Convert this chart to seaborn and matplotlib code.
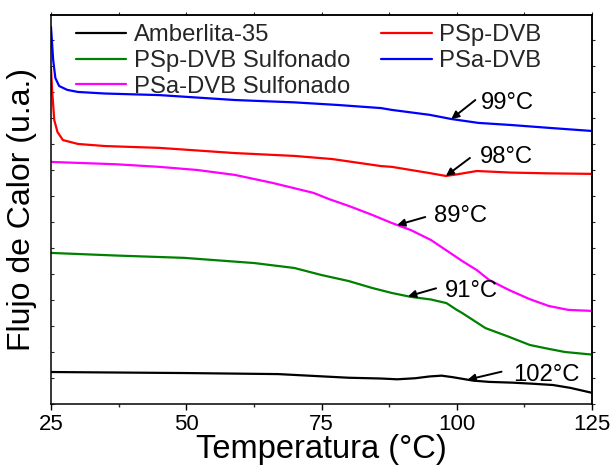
import numpy as np
import pandas as pd
import matplotlib
matplotlib.use("Agg")
import matplotlib.pyplot as plt
import seaborn as sns

# DSC curves: temperature (°C) and heat flow (arbitrary units)
t_amb = [25, 50, 67, 73.5, 80, 86, 89, 92.3, 95, 97.2, 99.3, 101, 103, 106, 110.4, 114, 117.8, 121, 125]
q_amb = [1.23, 1.19, 1.15, 1.08, 1.01, 0.98, 0.95, 0.99, 1.06, 1.09, 1.03, 0.97, 0.90, 0.85, 0.82, 0.78, 0.73, 0.62, 0.43]

t_psp = [25.0, 25.2, 25.6, 26.2, 27.2, 30, 35, 45, 59, 70, 77, 86, 88, 95, 98, 100, 103.7, 110, 117, 125]
q_psp = [12.92, 12.08, 10.92, 10.46, 10.15, 10.0, 9.92, 9.85, 9.65, 9.54, 9.42, 9.15, 9.12, 8.88, 8.77, 8.83, 8.96, 8.90, 8.87, 8.85]

t_psa = [25.0, 25.4, 25.8, 26.5, 28, 30, 35, 45, 59, 70, 78, 86, 88, 95, 99, 104, 110, 117, 125]
q_psa = [14.50, 13.23, 12.54, 12.23, 12.08, 12.00, 11.94, 11.88, 11.69, 11.60, 11.50, 11.38, 11.31, 11.12, 10.96, 10.81, 10.73, 10.62, 10.50]

t_psp_s = [25, 37, 49.6, 62.6, 70, 75, 80, 84.4, 88, 91.5, 95.2, 98.1, 100, 101, 103, 105.3, 109.7, 113.5, 117, 120, 125]
q_psp_s = [5.81, 5.71, 5.62, 5.42, 5.23, 4.96, 4.73, 4.46, 4.27, 4.12, 4.02, 3.88, 3.62, 3.50, 3.23, 2.92, 2.58, 2.27, 2.12, 2.00, 1.90]

t_psa_s = [25, 37, 45, 52, 59, 66, 73.5, 76.4, 80, 84.4, 88, 91.5, 95.2, 98, 101, 103.7, 106, 109.7, 113.4, 117, 120.6, 125]
q_psa_s = [9.31, 9.22, 9.12, 9.00, 8.81, 8.50, 8.12, 7.88, 7.62, 7.27, 6.96, 6.69, 6.31, 5.92, 5.50, 5.15, 4.77, 4.38, 4.04, 3.77, 3.62, 3.58]

names = ["Amberlita-35", "PSp-DVB Sulfonado", "PSa-DVB Sulfonado", "PSp-DVB", "PSa-DVB"]
colors = ["#000000", "#008000", "#ff00ff", "#ff0000", "#0000ff"]
series = {
    "Amberlita-35": (t_amb, q_amb),
    "PSp-DVB Sulfonado": (t_psp_s, q_psp_s),
    "PSa-DVB Sulfonado": (t_psa_s, q_psa_s),
    "PSp-DVB": (t_psp, q_psp),
    "PSa-DVB": (t_psa, q_psa),
}

# Glass transition marks: (series, temperature, label)
tg_marks = [
    ("PSa-DVB", 99, "99°C"),
    ("PSp-DVB", 98, "98°C"),
    ("PSa-DVB Sulfonado", 89, "89°C"),
    ("PSp-DVB Sulfonado", 91, "91°C"),
    ("Amberlita-35", 102, "102°C"),
]

frames = []
for n in names:
    t, q = series[n]
    frames.append(pd.DataFrame({"T": t, "Q": q, "muestra": n}))
df = pd.concat(frames, ignore_index=True)

sns.set_theme(style="ticks")
plt.rcParams["font.family"] = ["Liberation Sans", "DejaVu Sans"]

fig = plt.figure(figsize=(6.14, 4.65), dpi=100)
ax = fig.add_axes([51 / 614, (465 - 404) / 465, 541 / 614, 389 / 465])

sns.lineplot(data=df, x="T", y="Q", hue="muestra", hue_order=names,
             palette=dict(zip(names, colors)), estimator=None, sort=False,
             linewidth=1.6, ax=ax, legend=False)
for ln in ax.get_lines():
    ln.set_solid_joinstyle("round")
    ln.set_solid_capstyle("round")

ax.set_xlim(25, 125)
ax.set_ylim(0, 14.96)

# bottom axis: outward ticks, labelled majors
ax.set_xticks([25, 50, 75, 100, 125])
ax.set_xticks(np.arange(37.5, 125, 25), minor=True)
ax.tick_params(axis="x", which="major", direction="out", length=4.5, width=1,
               labelsize=16, pad=3, colors="black", top=False)
ax.tick_params(axis="x", which="minor", direction="out", length=2.5, width=1, top=False)

# left axis: inward unlabelled ticks
ax.set_yticks(np.arange(0, 15, 1))
ax.tick_params(axis="y", which="both", direction="in", length=2.5, width=0.8,
               labelleft=False, right=False)

# top and right: small outward ticks
top = ax.secondary_xaxis("top")
top.set_xticks(np.arange(25, 125.1, 12.5))
top.tick_params(direction="out", length=2, width=0.8, labeltop=False)
right = ax.secondary_yaxis("right")
right.set_yticks(np.arange(0, 15, 1))
right.tick_params(direction="out", length=2, width=0.8, labelright=False)

for sp in list(ax.spines.values()) + [top.spines["top"], right.spines["right"]]:
    sp.set_linewidth(1.1)
    sp.set_color("black")

ax.set_xlabel("Temperatura (°C)", fontsize=23.5, labelpad=-1, color="black")
ax.set_ylabel("Flujo de Calor (u.a.)", fontsize=23, labelpad=10, color="black")

# arrows pointing at the transitions, tail/text offsets in pixels
arrow_off = {"99°C": (24, 19), "98°C": (24, 18), "89°C": (28, 8), "91°C": (28, 8), "102°C": (34, 8)}
text_off = {"99°C": (30, 16), "98°C": (34, 19), "89°C": (37, 9), "91°C": (37, 5), "102°C": (46, 5)}
for n, tg, lab in tg_marks:
    t, q = series[n]
    y = float(np.interp(tg, t, q))
    ax.annotate("", xy=(tg, y), xytext=arrow_off[lab], textcoords="offset pixels",
                arrowprops=dict(arrowstyle="-|>", color="black", lw=1.4,
                                mutation_scale=11, shrinkA=0, shrinkB=0))
    ax.annotate(lab, xy=(tg, y), xytext=text_off[lab], textcoords="offset pixels",
                ha="left", va="center", fontsize=17.2, color="black")

handles = [plt.Line2D([], [], color=c, lw=1.6) for c in colors]
ax.legend(handles, names, ncol=2, loc="upper left", bbox_to_anchor=(0.046, 0.976),
          frameon=False, fontsize=17.2, borderpad=0, borderaxespad=0,
          handlelength=2.1, handletextpad=0.33, columnspacing=1.3, labelspacing=0.15)

fig.savefig("out.png", dpi=100)
